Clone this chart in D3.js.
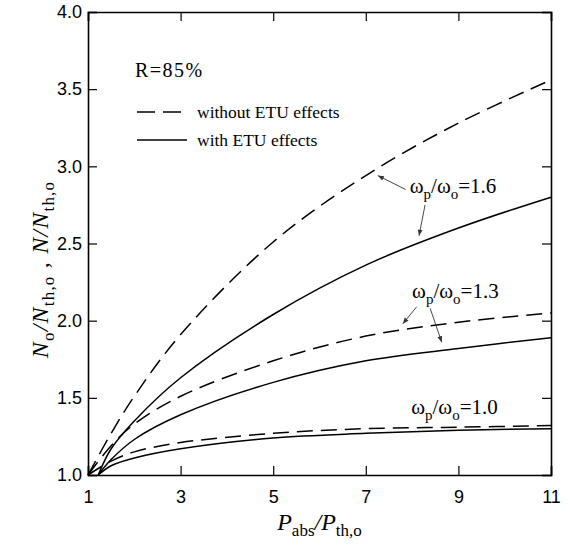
<!DOCTYPE html>
<html>
<head>
  <meta charset="utf-8"/>
  <title>ETU</title>
  <style>
    body { margin: 0; background: #fff; }
    .tick text { font-family: "Liberation Sans", Arial, sans-serif; font-size: 18px; }
    .serif { font-family: "Liberation Serif", "Times New Roman", serif; }
  </style>
</head>
<body>
<div id="graph"></div>
<script src="https://cdn.jsdelivr.net/npm/d3@7"></script>
<script>
    // curves, x = Pabs/Pth,o
    var xDashed = [1, 1.5, 2, 3, 5, 7, 9, 11]
    var xSolid  = [1.22, 1.5, 2, 3, 5, 7, 9, 11]
    var dashed16 = [1.0, 1.27, 1.51, 1.91, 2.51, 2.94, 3.28, 3.56]
    var solid16  = [1.0, 1.17, 1.35, 1.63, 2.04, 2.36, 2.60, 2.80]
    var dashed13 = [1.0, 1.19, 1.33, 1.51, 1.74, 1.90, 1.99, 2.05]
    var solid13  = [1.0, 1.10, 1.23, 1.39, 1.60, 1.74, 1.82, 1.89]
    var dashed10 = [1.0, 1.09, 1.15, 1.21, 1.27, 1.30, 1.31, 1.32]
    var solid10  = [1.0, 1.06, 1.11, 1.17, 1.24, 1.27, 1.29, 1.30]

    var xTicks = [1, 3, 5, 7, 9, 11]
    var yTicks = [1.0, 1.5, 2.0, 2.5, 3.0, 3.5, 4.0]

    // ratio labels and their arrows, data coords
    var ratioLabels = [
      {txt: "1.6", x: 7.95, y: 2.83},
      {txt: "1.3", x: 8.0, y: 2.15},
      {txt: "1.0", x: 7.98, y: 1.395}
    ]
    var arrows = [
      {x1: 7.86, y1: 2.85, x2: 7.26, y2: 2.94},
      {x1: 8.28, y1: 2.75, x2: 8.15, y2: 2.55},
      {x1: 8.10, y1: 2.09, x2: 7.80, y2: 1.98},
      {x1: 8.39, y1: 2.08, x2: 8.64, y2: 1.86}
    ]

    var margin = {top: 12, right: 22, bottom: 77, left: 88},
        width = 573 - margin.left - margin.right,
        height = 552 - margin.top - margin.bottom;

    var x = d3.scaleLinear().domain([1, 11]).range([0, width]);
    var y = d3.scaleLinear().domain([1, 4]).range([height, 0]);

    var svg = d3.select("#graph").append("svg")
        .attr("width", 573)
        .attr("height", 552)
      .append("g")
        .attr("transform", "translate(" + margin.left + "," + margin.top + ")");

    svg.append("defs").append("marker")
        .attr("id", "ah")
        .attr("viewBox", "0 0 10 10")
        .attr("refX", 10).attr("refY", 5)
        .attr("markerWidth", 9).attr("markerHeight", 6)
        .attr("markerUnits", "userSpaceOnUse")
        .attr("orient", "auto")
      .append("path")
        .attr("d", "M0,1 L10,5 L0,9 Z")
        .attr("fill", "#333");

    // axes, ticks inward on all four sides
    var tl = 9;
    svg.append("g").attr("class", "axis")
        .attr("transform", "translate(0," + height + ")")
        .call(d3.axisBottom(x).tickValues(xTicks).tickSize(-tl).tickPadding(15).tickFormat(d3.format("d")));
    svg.append("g").attr("class", "axis")
        .call(d3.axisTop(x).tickValues(xTicks).tickSize(-tl).tickFormat(""));
    svg.append("g").attr("class", "axis")
        .call(d3.axisLeft(y).tickValues(yTicks).tickSize(-tl).tickPadding(6).tickFormat(d3.format(".1f")));
    svg.append("g").attr("class", "axis")
        .attr("transform", "translate(" + width + ",0)")
        .call(d3.axisRight(y).tickValues(yTicks).tickSize(-tl).tickFormat(""));
    svg.selectAll(".axis .domain").attr("stroke-width", 1.6);
    svg.selectAll(".axis .tick line").attr("stroke-width", 1.2);
    svg.selectAll(".axis .tick text").attr("fill", "#000");

    var line = d3.line().curve(d3.curveCatmullRom.alpha(0.5))
        .x(function(d) { return x(d[0]); })
        .y(function(d) { return y(d[1]); });

    var curves = [
      {xs: xDashed, ys: dashed16, dash: true},
      {xs: xSolid, ys: solid16, dash: false},
      {xs: xDashed, ys: dashed13, dash: true},
      {xs: xSolid, ys: solid13, dash: false},
      {xs: xDashed, ys: dashed10, dash: true},
      {xs: xSolid, ys: solid10, dash: false}
    ];
    svg.selectAll(".curve").data(curves).enter().append("path")
        .attr("class", "curve")
        .attr("fill", "none")
        .attr("stroke", "#000")
        .attr("stroke-width", 1.5)
        .attr("stroke-dasharray", function(d) { return d.dash ? "16,8" : null; })
        .attr("d", function(d) { return line(d.xs.map(function(v, i) { return [v, d.ys[i]]; })); });

    // legend
    svg.append("text").attr("class", "serif")
        .attr("x", 47).attr("y", 65)
        .attr("font-size", 20)
        .attr("letter-spacing", 1.5)
        .text("R=85%");
    svg.append("line")
        .attr("x1", 49).attr("x2", 99).attr("y1", 100).attr("y2", 100)
        .attr("stroke", "#000").attr("stroke-width", 1.5)
        .attr("stroke-dasharray", "18,8");
    svg.append("line")
        .attr("x1", 49).attr("x2", 99).attr("y1", 128).attr("y2", 128)
        .attr("stroke", "#000").attr("stroke-width", 1.5);
    svg.append("text").attr("class", "serif")
        .attr("x", 109).attr("y", 106).attr("font-size", 17.5)
        .text("without ETU effects");
    svg.append("text").attr("class", "serif")
        .attr("x", 109).attr("y", 134).attr("font-size", 17.5)
        .text("with ETU effects");

    // ratio labels
    ratioLabels.forEach(function(l) {
      var t = svg.append("text").attr("class", "serif")
          .attr("x", x(l.x)).attr("y", y(l.y)).attr("font-size", 21);
      t.append("tspan").text("ω");
      t.append("tspan").attr("dy", 6).attr("font-size", 15).text("p");
      t.append("tspan").attr("dy", -6).text("/ω");
      t.append("tspan").attr("dy", 6).attr("font-size", 15).text("o");
      t.append("tspan").attr("dy", -6).text("=" + l.txt);
    });

    svg.selectAll(".arrow").data(arrows).enter().append("line")
        .attr("class", "arrow")
        .attr("x1", function(d) { return x(d.x1); })
        .attr("y1", function(d) { return y(d.y1); })
        .attr("x2", function(d) { return x(d.x2); })
        .attr("y2", function(d) { return y(d.y2); })
        .attr("stroke", "#333").attr("stroke-width", 0.9)
        .attr("marker-end", "url(#ah)");

    // axis titles
    var xt = svg.append("text").attr("class", "serif")
        .attr("x", width / 2).attr("y", height + 55)
        .attr("text-anchor", "middle").attr("font-size", 24);
    xt.append("tspan").attr("font-style", "italic").text("P");
    xt.append("tspan").attr("dy", 6).attr("font-size", 17).text("abs");
    xt.append("tspan").attr("dy", -6).attr("font-style", "italic").text("/P");
    xt.append("tspan").attr("dy", 6).attr("font-size", 17).text("th,o");

    var yt = svg.append("text").attr("class", "serif")
        .attr("transform", "translate(" + (-40) + "," + (height / 2 + 26) + ") rotate(-90)")
        .attr("text-anchor", "middle").attr("font-size", 24)
        .attr("letter-spacing", 1.2);
    yt.append("tspan").attr("font-style", "italic").text("N");
    yt.append("tspan").attr("dy", 6).attr("font-size", 17).text("o");
    yt.append("tspan").attr("dy", -6).attr("font-style", "italic").text("/N");
    yt.append("tspan").attr("dy", 6).attr("font-size", 17).text("th,o");
    yt.append("tspan").attr("dy", -6).text("  ,   ");
    yt.append("tspan").attr("font-style", "italic").text("N/N");
    yt.append("tspan").attr("dy", 6).attr("font-size", 17).text("th,o");
</script>
</body>
</html>
